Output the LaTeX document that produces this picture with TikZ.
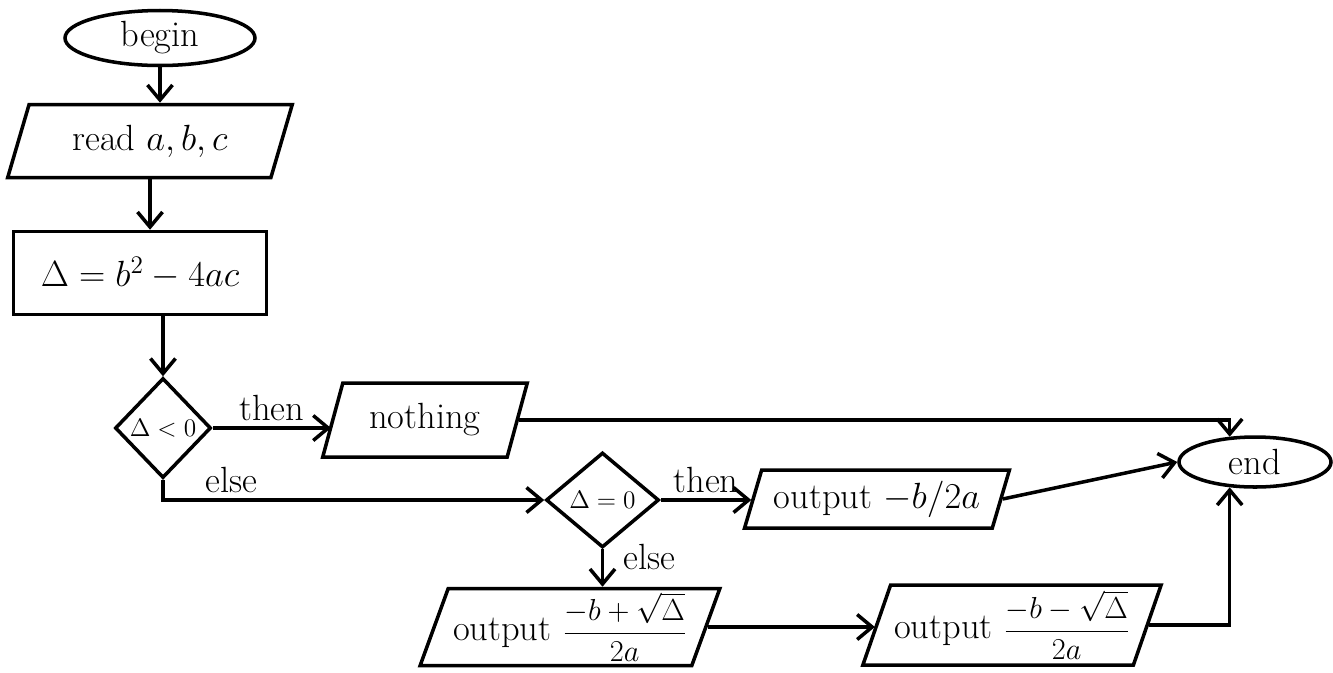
\documentclass[tikz,border=0pt]{standalone}
\usetikzlibrary{shapes.geometric, arrows.meta, positioning}
\tikzset{
    font=\huge,
    >={Straight Barb[length=3mm,width=5mm]},
    % Shapes
    term/.style={ellipse, draw, line width=2pt, inner sep=0pt},
    io/.style={trapezium, trapezium left angle=70, trapezium right angle=110,
               trapezium stretches=true, draw, line width=2pt, inner sep=2pt},
    proc/.style={rectangle, draw, line width=2pt},
    dec/.style={diamond, aspect=1, draw, line width=2pt, inner sep=0pt, font=\Large},
    % Flow & Labels
    flow/.style={->, line width=2pt},
    lbl/.style={font=\huge, inner sep=3pt}
}
\newcommand{\fracout}[2]{{\LARGE$\displaystyle\frac{#1}{#2}$}}

\begin{document}
\begin{tikzpicture}
\useasboundingbox (0,0) rectangle (26.66,-13.44);

\node[term, minimum width=3.8cm, minimum height=1.1cm] (start) at (3.2,-0.76) {begin};
\node[io, minimum width=5.7cm, minimum height=1.46cm] (read) at (3.0,-2.82) {read $a,b,c$};
\node[proc, minimum width=5.06cm, minimum height=1.66cm] (delta) at (2.8,-5.46) {$\Delta=b^2-4ac$};
\node[dec, minimum width=1.92cm, minimum height=2cm] (neg) at (3.26,-8.56) {$\Delta<0$};
\node[io, minimum width=4.1cm, minimum height=1.48cm] (nothing) at (8.5,-8.4) {nothing};
\node[dec, minimum width=2.26cm, minimum height=1.9cm] (zero) at (12.05,-10) {$\Delta=0$};
\node[io, minimum width=5.3cm, minimum height=1.16cm] (out1) at (17.54,-9.98) {output $-b/2a$};
\node[term, minimum width=3.04cm, minimum height=1cm] (stop) at (25.1,-9.24) {end};
\node[io, minimum width=6cm, minimum height=1.54cm] (out2) at (11.4,-12.54)
    {output \fracout{-b+\sqrt{\Delta}}{2a}};
\node[io, minimum width=5.3cm, minimum height=1.6cm] (out3) at (20.24,-12.5)
    {output \fracout{-b-\sqrt{\Delta}}{2a}};

\draw[flow] (start.south) -- (start.south |- read.north);
\draw[flow] (read.south) -- (read.south |- delta.north);
\draw[flow] (neg.north |- delta.south) -- (neg.north);
\draw[flow] (neg.east) -- node[lbl, above] {then} (neg.east -| nothing.west);
\draw[flow] (nothing.east) -| (stop.135);
\draw[flow] (neg.south) |- node[lbl, above, pos=0.59] {else} (zero.west);
\draw[flow] (zero.east) -- node[lbl, above] {then} (zero.east -| out1.west);
\draw[flow] (out1.east) -- (stop.west);
\draw[flow] (zero.south) -- node[lbl, right, xshift=8pt, yshift=6pt] {else} (zero.south |- out2.north);
\draw[flow] (out2.east) -- (out2.east -| out3.west);
\draw[flow] (out3.east) -| (stop.225);

\end{tikzpicture}
\end{document}
